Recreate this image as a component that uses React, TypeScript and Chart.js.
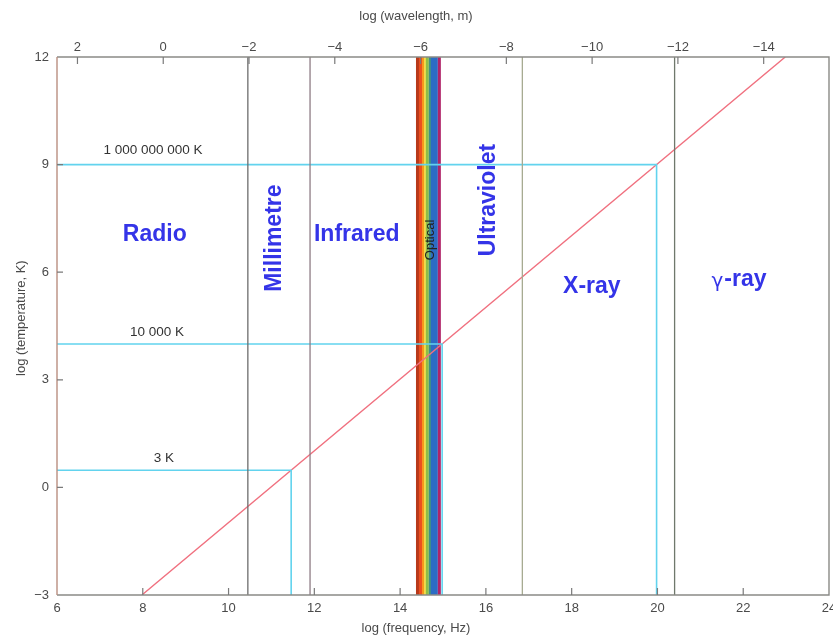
import React, { useEffect, useRef } from 'react';
import { Chart, registerables } from 'chart.js';

Chart.register(...registerables);

// Axis ticks
const freqTicks = [6, 8, 10, 12, 14, 16, 18, 20, 22, 24];
const wavelengthTicks = [2, 0, -2, -4, -6, -8, -10, -12, -14];
const tempTicks = [-3, 0, 3, 6, 9, 12];

// log(c) links log frequency and log wavelength: logλ = LOG_C − logν
const LOG_C = 8.477;

// Boundaries between spectral regions (log frequency)
const boundaryFreq = [10.45, 11.9, 16.85, 20.4];
const boundaryColors = ['#6d6d6d', '#8e7c85', '#a7ab92', '#6f786c'];

// Wien line: peak frequency vs. temperature
const wienFreq = [7.98, 22.98];
const wienTemp = [-3, 12];

// Reference temperatures and the frequency where they meet the Wien line
const markTemp = [0.48, 4, 9];
const markFreq = [11.46, 14.98, 19.98];
const markLabels = ['3 K', '10 000 K', '1 000 000 000 K'];

// Visible band split into colour stripes (log frequency edges)
const opticalEdges = [14.37, 14.44, 14.51, 14.56, 14.6, 14.67, 14.72, 14.88, 14.95];
const opticalColors = ['#b8391a', '#ec4f1e', '#f6981c', '#f4d832', '#8fbe46', '#3f8f86', '#2c6cc4', '#b02468'];

const regionNames = ['Radio', 'Millimetre', 'Infrared', 'Ultraviolet', 'X-ray', '-ray'];

// Where each text sits, in data units, plus rotation
const regionPlacement = [
  { x: 8.28, y: 7.04, rot: false },
  { x: 11.08, y: 6.95, rot: true },
  { x: 12.99, y: 7.04, rot: false },
  { x: 16.07, y: 8.01, rot: true },
  { x: 18.47, y: 5.61, rot: false },
  { x: 22.05, y: 5.78, rot: false },
];
const markLabelPlacement = [
  { x: 8.49, y: 0.82 },
  { x: 8.33, y: 4.33 },
  { x: 8.24, y: 9.41 },
];

const FONT = '"Liberation Sans", Arial, Helvetica, sans-serif';
const TICK_COLOR = '#4a4a4a';
const REGION_COLOR = '#3434e8';
const CYAN = '#62d3ee';
const RED = '#f0707f';

const minus = (v: number) => (v < 0 ? '\u2212' + Math.abs(v) : String(v));

const spectrumPlugin = {
  id: 'spectrumDecor',
  beforeDatasetsDraw(chart: any) {
    const { ctx, chartArea, scales } = chart;
    const x = scales.x;
    ctx.save();
    for (let i = 0; i < opticalColors.length; i++) {
      const a = x.getPixelForValue(opticalEdges[i]);
      const b = x.getPixelForValue(opticalEdges[i + 1]);
      ctx.fillStyle = opticalColors[i];
      ctx.fillRect(a, chartArea.top, b - a, chartArea.bottom - chartArea.top);
    }
    ctx.restore();
  },
  afterDraw(chart: any) {
    const { ctx, chartArea, scales } = chart;
    const { left, right, top, bottom } = chartArea;
    const x = scales.x;
    const x2 = scales.x2;
    const y = scales.y;
    ctx.save();

    // frame
    ctx.lineWidth = 1.4;
    ctx.strokeStyle = '#8a8a86';
    ctx.beginPath();
    ctx.moveTo(left, top);
    ctx.lineTo(right, top);
    ctx.lineTo(right, bottom);
    ctx.lineTo(left, bottom);
    ctx.stroke();
    ctx.strokeStyle = '#b98f80';
    ctx.beginPath();
    ctx.moveTo(left, top);
    ctx.lineTo(left, bottom);
    ctx.stroke();

    // inward tick marks
    ctx.strokeStyle = '#7a7a7a';
    ctx.lineWidth = 1.2;
    const len = 7;
    ctx.beginPath();
    freqTicks.slice(1, -1).forEach((v) => {
      const px = x.getPixelForValue(v);
      ctx.moveTo(px, bottom);
      ctx.lineTo(px, bottom - len);
    });
    wavelengthTicks.forEach((v) => {
      const px = x2.getPixelForValue(v);
      ctx.moveTo(px, top);
      ctx.lineTo(px, top + len);
    });
    tempTicks.slice(1, -1).forEach((v) => {
      const py = y.getPixelForValue(v);
      ctx.moveTo(left, py);
      ctx.lineTo(left + len - 1, py);
    });
    ctx.stroke();

    // axis titles
    ctx.fillStyle = TICK_COLOR;
    ctx.font = `13px ${FONT}`;
    ctx.textAlign = 'center';
    ctx.textBaseline = 'middle';
    const titleX = left + (right - left) * 0.465;
    ctx.fillText('log (wavelength, m)', titleX, 16);
    ctx.fillText('log (frequency, Hz)', titleX, 628);
    ctx.save();
    ctx.translate(21, y.getPixelForValue(4.72));
    ctx.rotate(-Math.PI / 2);
    ctx.fillText('log (temperature, K)', 0, 0);
    ctx.restore();

    // temperature labels
    ctx.fillStyle = '#333333';
    ctx.font = `13.5px ${FONT}`;
    markLabels.forEach((t, i) => {
      const p = markLabelPlacement[i];
      ctx.fillText(t, x.getPixelForValue(p.x), y.getPixelForValue(p.y));
    });

    // optical label
    ctx.save();
    ctx.fillStyle = '#222222';
    ctx.font = `13px ${FONT}`;
    ctx.translate(x.getPixelForValue(14.7), y.getPixelForValue(6.9));
    ctx.rotate(-Math.PI / 2);
    ctx.fillText('Optical', 0, 0);
    ctx.restore();

    // region names
    ctx.fillStyle = REGION_COLOR;
    ctx.font = `bold 23px ${FONT}`;
    regionNames.forEach((name, i) => {
      const p = regionPlacement[i];
      const px = x.getPixelForValue(p.x);
      const py = y.getPixelForValue(p.y);
      if (p.rot) {
        ctx.save();
        ctx.translate(px, py);
        ctx.rotate(-Math.PI / 2);
        ctx.fillText(name, 0, 0);
        ctx.restore();
      } else {
        ctx.fillText(name, px, py);
      }
    });

    // Greek gamma in front of the last region name
    const gp = regionPlacement[5];
    ctx.font = `bold 23px ${FONT}`;
    const w = ctx.measureText(regionNames[5]).width;
    ctx.font = `20px "DejaVu Sans", sans-serif`;
    ctx.textAlign = 'right';
    ctx.fillText('γ', x.getPixelForValue(gp.x) - w / 2 - 1, y.getPixelForValue(gp.y) + 2);

    ctx.restore();
  },
};

export default function App() {
  const canvasRef = useRef<HTMLCanvasElement | null>(null);

  useEffect(() => {
    document.body.style.margin = '0';
    const canvas = canvasRef.current;
    if (!canvas) return;

    const lineBase = {
      type: 'scatter' as const,
      showLine: true,
      pointRadius: 0,
      fill: false,
      tension: 0,
      xAxisID: 'x',
      yAxisID: 'y',
    };

    const datasets: any[] = [];
    boundaryFreq.forEach((f, i) => {
      datasets.push({
        ...lineBase,
        label: 'boundary ' + i,
        data: [
          { x: f, y: tempTicks[0] },
          { x: f, y: tempTicks[tempTicks.length - 1] },
        ],
        borderColor: boundaryColors[i],
        borderWidth: 1.3,
      });
    });
    markTemp.forEach((t, i) => {
      datasets.push({
        ...lineBase,
        label: markLabels[i],
        data: [
          { x: freqTicks[0], y: t },
          { x: markFreq[i], y: t },
          { x: markFreq[i], y: tempTicks[0] },
        ],
        borderColor: CYAN,
        borderWidth: 1.6,
      });
    });
    datasets.push({
      ...lineBase,
      label: 'Wien',
      data: wienFreq.map((f, i) => ({ x: f, y: wienTemp[i] })),
      borderColor: RED,
      borderWidth: 1.4,
    });

    const tickFont = { family: FONT, size: 13 };

    const chart = new Chart(canvas, {
      type: 'scatter',
      data: { datasets },
      options: {
        animation: false,
        responsive: false,
        devicePixelRatio: 1,
        layout: { padding: { left: 0, right: 4, top: 0, bottom: 0 } },
        plugins: {
          legend: { display: false },
          tooltip: { enabled: false },
          title: { display: false },
        },
        scales: {
          x: {
            type: 'linear',
            position: 'bottom',
            min: freqTicks[0],
            max: freqTicks[freqTicks.length - 1],
            afterBuildTicks: (s: any) => {
              s.ticks = freqTicks.map((v) => ({ value: v }));
            },
            afterFit: (s: any) => {
              s.height = 42;
              s.paddingLeft = 0;
              s.paddingRight = 0;
            },
            ticks: {
              font: tickFont,
              color: TICK_COLOR,
              padding: 6,
              maxRotation: 0,
              autoSkip: false,
              callback: (v: any) => minus(Number(v)),
            },
            grid: { display: false, drawTicks: false },
            border: { display: false },
          },
          x2: {
            type: 'linear',
            position: 'top',
            reverse: true,
            min: LOG_C - freqTicks[freqTicks.length - 1],
            max: LOG_C - freqTicks[0],
            afterBuildTicks: (s: any) => {
              s.ticks = wavelengthTicks.map((v) => ({ value: v }));
            },
            afterFit: (s: any) => {
              s.height = 57;
              s.paddingLeft = 0;
              s.paddingRight = 0;
            },
            ticks: {
              font: tickFont,
              color: TICK_COLOR,
              padding: 2,
              maxRotation: 0,
              autoSkip: false,
              callback: (v: any) => minus(Number(v)),
            },
            grid: { display: false, drawTicks: false },
            border: { display: false },
          },
          y: {
            type: 'linear',
            position: 'left',
            min: tempTicks[0],
            max: tempTicks[tempTicks.length - 1],
            afterBuildTicks: (s: any) => {
              s.ticks = tempTicks.map((v) => ({ value: v }));
            },
            afterFit: (s: any) => {
              s.width = 57;
              s.paddingTop = 0;
              s.paddingBottom = 0;
            },
            ticks: {
              font: tickFont,
              color: TICK_COLOR,
              padding: 8,
              autoSkip: false,
              callback: (v: any) => minus(Number(v)),
            },
            grid: { display: false, drawTicks: false },
            border: { display: false },
          },
        },
      },
      plugins: [spectrumPlugin],
    });

    return () => {
      chart.destroy();
    };
  }, []);

  return (
    <div style={{ position: 'absolute', left: 0, top: 0, width: 833, height: 637, background: '#ffffff' }}>
      <canvas ref={canvasRef} width={833} height={637} style={{ display: 'block' }} />
    </div>
  );
}
